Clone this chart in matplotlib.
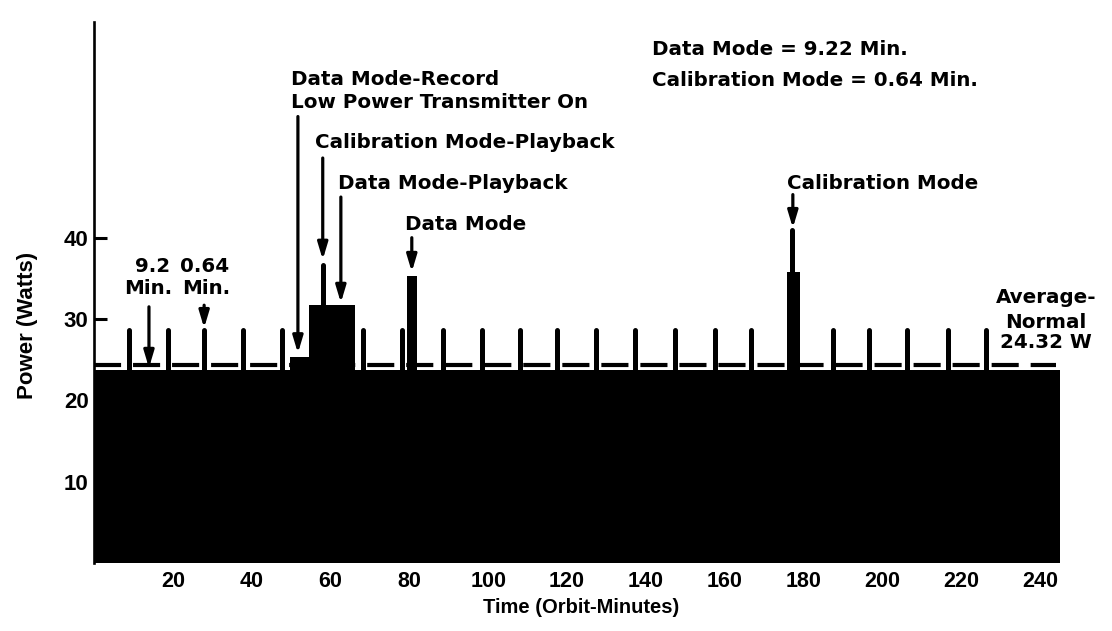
import matplotlib.pyplot as plt

# power profile over four orbits (minutes, watts)
base_power = 23.7
average_power = 24.32
orbit_end = 245.0

# short data-mode spikes every orbit step
spike_times = [8.9, 18.7, 27.8, 37.7, 47.6, 68.1, 78.0, 88.6, 98.5, 108.1, 117.5,
               127.3, 137.2, 147.3, 157.5, 166.8, 187.6, 196.7, 206.3, 216.7, 226.3]
spike_power = 28.7

# wider events on top of the base
event_start = [49.6, 54.4, 79.3, 175.8]
event_end = [54.4, 66.1, 82.0, 179.1]
event_power = [25.3, 31.7, 35.3, 35.8]

# narrow calibration peaks
peak_times = [58.0, 177.2]
peak_from = [31.7, 35.8]
peak_power = [36.7, 40.9]

yticks = [10, 20, 30, 40]
xticks = [20, 40, 60, 80, 100, 120, 140, 160, 180, 200, 220, 240]

plt.rcParams['font.family'] = ['Liberation Sans', 'DejaVu Sans']
plt.rcParams['lines.scale_dashes'] = False

fig = plt.figure(figsize=(11.12, 6.31), dpi=100)
ax = fig.add_axes([0.0847, 0.1078, 0.893, 0.857])

# step profile
tt = [0.0]
pp = [base_power]
cur = 0.0
for s, e, lvl in zip(event_start, event_end, event_power):
    if s > cur:
        tt.append(s)
        pp.append(lvl)
    else:
        tt[-1] = s
        pp[-1] = lvl
    tt.append(e)
    pp.append(base_power)
    cur = e
tt.append(orbit_end)
pp.append(base_power)
ax.fill_between(tt, 0, pp, step='post', color='black', lw=0, zorder=2)

ax.plot([0, orbit_end - 1], [average_power, average_power], color='black', lw=3,
        dashes=(19.5, 8.6), dash_capstyle='butt', zorder=1)

ax.vlines(spike_times, base_power, spike_power, color='black', lw=3.6,
          capstyle='round', zorder=3)
ax.vlines(peak_times, peak_from, peak_power, color='black', lw=3.6,
          capstyle='round', zorder=3)

fs = 14.3
arrow = dict(arrowstyle='-|>,head_length=1.0,head_width=0.3', lw=2.3,
             color='black', shrinkA=0, shrinkB=0)

def note(txt, x, y, **kw):
    ax.text(x, y, txt, fontsize=fs, fontweight='bold', va='center',
            family=['DejaVu Sans'], **kw)

def arr(x, y0, y1):
    ax.annotate('', xy=(x, y1), xytext=(x, y0), arrowprops=arrow)

note('Data Mode = 9.22 Min.', 141.6, 63.1)
note('Calibration Mode = 0.64 Min.', 141.6, 59.3)
note('Data Mode-Record', 49.9, 59.4)
note('Low Power Transmitter On', 49.9, 56.6)
note('Calibration Mode-Playback', 56.0, 51.7)
note('Data Mode-Playback', 61.9, 46.7)
note('Data Mode', 78.9, 41.6)
note('Calibration Mode', 175.8, 46.7)
note('9.2', 14.7, 36.4, ha='center')
note('Min.', 13.7, 33.8, ha='center')
note('0.64', 28.1, 36.4, ha='center')
note('Min.', 28.4, 33.8, ha='center')
note('Average-', 241.5, 32.6, ha='center')
note('Normal', 241.5, 29.6, ha='center')
note('24.32 W', 241.5, 27.1, ha='center')

arr(51.7, 54.9, 25.8)
arr(58.0, 49.8, 37.3)
arr(62.6, 45.0, 32.0)
arr(80.6, 40.0, 35.8)
arr(177.3, 45.3, 41.2)
arr(13.9, 31.5, 24.0)
arr(27.9, 31.7, 28.9)

ax.set_xlim(0, 252)
ax.set_ylim(0, 66.5)
for side in ['top', 'right', 'bottom']:
    ax.spines[side].set_visible(False)
ax.spines['left'].set_linewidth(1.9)

ax.set_yticks(yticks)
ax.set_xticks(xticks)
ax.tick_params(axis='y', direction='in', length=9.5, width=2.2, pad=4,
               labelsize=16)
ax.tick_params(axis='x', length=0, pad=6, labelsize=15.5)
for lab in ax.get_xticklabels() + ax.get_yticklabels():
    lab.set_fontweight('bold')

ax.set_xlabel('Time (Orbit-Minutes)', fontsize=14.5, fontweight='bold')
ax.xaxis.set_label_coords(0.49, -0.083)
ax.xaxis.label.set_va('center')
ax.set_ylabel('Power (Watts)', fontsize=16, fontweight='bold', va='center', ha='center')
ax.yaxis.set_label_coords(-0.067, 0.44)

fig.savefig('out.png', dpi=100)
